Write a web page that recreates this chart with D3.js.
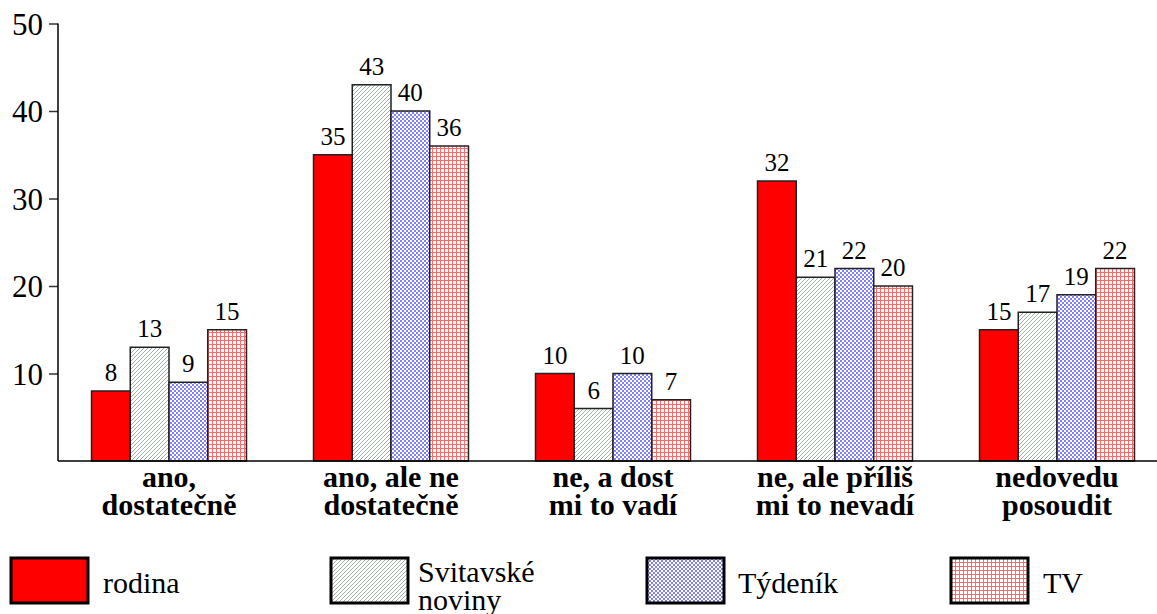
<!DOCTYPE html>
<html>
<head>
<meta charset="utf-8">
<script src="https://cdn.jsdelivr.net/npm/d3@7"></script>
<style>
  body { margin: 0; background: #fff; }
  svg { display: block; }
</style>
</head>
<body>
<div class="chart"></div>
<script>
const categories = [['ano,', 'dostatečně'], ['ano, ale ne', 'dostatečně'], ['ne, a dost', 'mi to vadí'], ['ne, ale příliš', 'mi to nevadí'], ['nedovedu', 'posoudit']];
const seriesNames = ['rodina', 'Svitavské noviny', 'Týdeník', 'TV'];
const rodina = [8, 35, 10, 32, 15];
const svitavske = [13, 43, 6, 21, 17];
const tydenik = [9, 40, 10, 22, 19];
const tv = [15, 36, 7, 20, 22];
const yTicks = [10, 20, 30, 40, 50];

const w = 1157, h = 614;
const font = 'Liberation Serif';
const series = [rodina, svitavske, tydenik, tv];
const fills = ['#ff0000', 'url(#hatch)', 'url(#check)', 'url(#grid)'];

const svg = d3.select('div.chart')
  .append('svg')
  .attr('width', w)
  .attr('height', h)
  .attr('font-family', font);

// patterns
const defs = svg.append('defs');
const hatch = defs.append('pattern')
  .attr('id', 'hatch')
  .attr('patternUnits', 'userSpaceOnUse')
  .attr('width', 4).attr('height', 4);
hatch.append('rect').attr('width', 4).attr('height', 4).attr('fill', '#fff');
hatch.append('path')
  .attr('d', 'M-1,1 L1,-1 M0,4 L4,0 M3,5 L5,3')
  .attr('stroke', '#9aaa9f').attr('stroke-width', 0.9);

const check = defs.append('pattern')
  .attr('id', 'check')
  .attr('patternUnits', 'userSpaceOnUse')
  .attr('width', 4).attr('height', 4);
check.append('rect').attr('width', 4).attr('height', 4).attr('fill', '#fff');
check.append('rect').attr('width', 2).attr('height', 2).attr('fill', '#8080ff');
check.append('rect').attr('x', 2).attr('y', 2).attr('width', 2).attr('height', 2).attr('fill', '#8080ff');

const grid = defs.append('pattern')
  .attr('id', 'grid')
  .attr('patternUnits', 'userSpaceOnUse')
  .attr('width', 4).attr('height', 4);
grid.append('rect').attr('width', 4).attr('height', 4).attr('fill', '#fff');
grid.append('path')
  .attr('d', 'M0.5,0 V4 M0,0.5 H4')
  .attr('stroke', '#ff6a6a').attr('stroke-width', 1);

const x0 = d3.scaleBand()
  .domain(d3.range(categories.length))
  .range([58, 1168])
  .paddingInner(0.302)
  .paddingOuter(0.151);
const x1 = d3.scaleBand()
  .domain(d3.range(seriesNames.length))
  .range([0, x0.bandwidth()]);
const y = d3.scaleLinear()
  .domain([0, 50])
  .range([461, 23.5]);

// bars
series.forEach(function(vals, s){
  const g = svg.append('g');
  g.selectAll('rect')
    .data(vals)
    .enter()
    .append('rect')
    .attr('x', (d, i) => x0(i) + x1(s))
    .attr('y', (d) => y(d))
    .attr('width', x1.bandwidth())
    .attr('height', (d) => y(0) - y(d))
    .attr('fill', fills[s])
    .attr('stroke', '#222')
    .attr('stroke-width', 1.5);
  g.selectAll('text')
    .data(vals)
    .enter()
    .append('text')
    .text((d) => d)
    .attr('x', (d, i) => x0(i) + x1(s) + x1.bandwidth() / 2)
    .attr('y', (d) => y(d) - 10)
    .attr('text-anchor', 'middle')
    .attr('font-family', font)
    .attr('font-size', 25)
    .attr('fill', '#000');
});

// axes
const yAxis = d3.axisLeft(y)
  .tickValues(yTicks)
  .tickSize(9)
  .tickPadding(6);
const ya = svg.append('g')
  .attr('transform', 'translate(58,0)')
  .call(yAxis)
  .attr('font-family', font);
ya.select('.domain').remove();
ya.selectAll('line').attr('stroke', '#333').attr('stroke-width', 1.5);
ya.selectAll('text')
  .attr('font-family', font)
  .attr('font-size', 31)
  .attr('fill', '#000')
  .attr('dy', '0.35em');

svg.append('line')
  .attr('x1', 58).attr('x2', 58)
  .attr('y1', y(50)).attr('y2', y(0))
  .attr('stroke', '#000').attr('stroke-width', 1.5);
svg.append('line')
  .attr('x1', 58).attr('x2', w)
  .attr('y1', y(0)).attr('y2', y(0))
  .attr('stroke', '#000').attr('stroke-width', 1.5);

// category labels
const cat = svg.append('g')
  .selectAll('text')
  .data(categories)
  .enter()
  .append('text')
  .attr('text-anchor', 'middle')
  .attr('font-family', font)
  .attr('font-size', 30)
  .attr('font-weight', 'bold')
  .attr('fill', '#000');
cat.selectAll('tspan')
  .data((d, i) => d.map((t) => ({t: t, i: i})))
  .enter()
  .append('tspan')
  .attr('x', (d) => x0(d.i) + x0.bandwidth() / 2)
  .attr('y', (d, j) => 487 + j * 28)
  .text((d) => d.t);

// legend
const legX = [11, 331, 647, 951];
const legTextX = [92, 87, 91, 92];
const legend = svg.append('g')
  .selectAll('g')
  .data(seriesNames)
  .enter()
  .append('g')
  .attr('transform', (d, i) => 'translate(' + legX[i] + ',558)');
legend.append('rect')
  .attr('width', 77)
  .attr('height', 45)
  .attr('fill', (d, i) => fills[i])
  .attr('stroke', '#000')
  .attr('stroke-width', 3);
legend.append('text')
  .attr('font-family', font)
  .attr('font-size', 30)
  .attr('fill', '#000')
  .each(function(d, i){
    const words = i === 1 ? ['Svitavské', 'noviny'] : [d];
    const t = d3.select(this);
    words.forEach(function(wd, j){
      t.append('tspan')
        .attr('x', legTextX[i])
        .attr('y', words.length > 1 ? 24 + j * 28 : 35)
        .text(wd);
    });
  });
</script>
</body>
</html>
